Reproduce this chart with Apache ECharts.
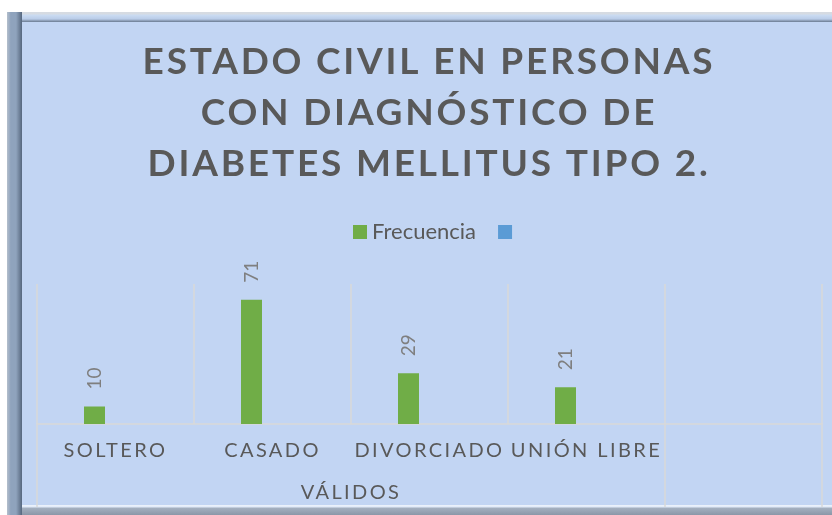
<!DOCTYPE html>
<html>
<head>
<meta charset="utf-8">
<script src="https://cdn.jsdelivr.net/npm/echarts@6/dist/echarts.min.js"></script>
<style>
  body { margin: 0; background: #fff; }
  .fr { position: absolute; }
  #bg { left: 22px; top: 22px; width: 810px; height: 484px; background: #c2d5f3; }
  #frameT { left: 7px; top: 12px; width: 825px; height: 10px;
    background: linear-gradient(to bottom, #d6dbe2 0, #d6dbe2 2px, #cbdcf2 3px, #b9cce8 70%, #6a7a90 100%); }
  #frameL { left: 7px; top: 12px; width: 15px; height: 503px;
    background: linear-gradient(to right, #b4bfcc 0, #8fa3bd 25%, #8fa3bd 60%, #56677e 100%); }
  #frameB { left: 22px; top: 505px; width: 810px; height: 10px;
    background: linear-gradient(to bottom, #eef4fc 0, #dfe9f8 2px, #a4b0c0 3px, #8b97a8 100%); }
  #chart { position: absolute; left: 0; top: 0; width: 832px; height: 515px; }
</style>
</head>
<body>
<div class="fr" id="bg"></div>
<div class="fr" id="frameT"></div>
<div class="fr" id="frameB"></div>
<div class="fr" id="frameL"></div>
<div id="chart"></div>
<script>
const titleLines = ['ESTADO CIVIL EN PERSONAS', 'CON DIAGNÓSTICO DE', 'DIABETES MELLITUS TIPO 2.'];
const categories = ['SOLTERO', 'CASADO', 'DIVORCIADO', 'UNIÓN LIBRE', ''];
const frecuencia = [10, 71, 29, 21];
const groupLabel = 'VÁLIDOS';
const seriesNames = ['Frecuencia', ' '];

// the original uses letter-spaced text; canvas can do that, echarts can't
const spaced = {};
titleLines.forEach(t => spaced[t] = 2.8);
categories.forEach(c => { if (c) spaced[c] = 2.4; });
spaced[groupLabel] = 2.4;

const origFillText = CanvasRenderingContext2D.prototype.fillText;
CanvasRenderingContext2D.prototype.fillText = function (text, x, y, maxW) {
    const ls = spaced[text];
    if (ls && 'letterSpacing' in this) {
        this.save();
        this.letterSpacing = ls + 'px';
        origFillText.call(this, text, x, y);
        this.restore();
        const f = this.font;
        this.font = f;
        return;
    }
    return maxW === undefined ? origFillText.call(this, text, x, y) : origFillText.call(this, text, x, y, maxW);
};

const chart = echarts.init(document.getElementById('chart'), null, { renderer: 'canvas' });

const gridLine = '#d9d9d9';
const font = 'Lato';

chart.setOption({
    animation: false,
    backgroundColor: 'transparent',
    title: {
        text: titleLines.join('\n'),
        left: 429,
        top: 37,
        padding: 0,
        textAlign: 'center',
        textStyle: {
            fontFamily: font,
            fontWeight: 'bold',
            fontSize: 37,
            lineHeight: 51,
            color: '#595959'
        }
    },
    legend: {
        data: seriesNames,
        left: 353,
        top: 221,
        padding: 0,
        itemWidth: 14,
        itemHeight: 14,
        itemGap: 22,
        icon: 'rect',
        textStyle: { fontFamily: font, fontSize: 22, color: '#595959' }
    },
    grid: { left: 37, right: 10, top: 284, bottom: 91 },
    xAxis: [{
        type: 'category',
        data: categories,
        boundaryGap: true,
        axisLine: { lineStyle: { color: gridLine, width: 1.5 } },
        axisTick: {
            show: true,
            length: 83,
            interval: function (index) { return index === 0 || index === 4; },
            lineStyle: { color: gridLine, width: 1.5 }
        },
        splitLine: { show: true, interval: 0, lineStyle: { color: gridLine, width: 1.5 } },
        axisLabel: {
            interval: 0,
            margin: 17,
            fontFamily: font,
            fontSize: 20,
            color: '#595959'
        }
    }, {
        // second level of the category axis
        type: 'value',
        position: 'bottom',
        offset: 0,
        min: 0,
        max: 5,
        interval: 1,
        axisLine: { show: false },
        axisTick: { show: false },
        splitLine: { show: false },
        axisLabel: {
            margin: 59,
            fontFamily: font,
            fontSize: 20,
            color: '#595959',
            formatter: function (v) { return v === 2 ? groupLabel : ''; }
        }
    }],
    yAxis: { type: 'value', min: 0, max: 80, show: false },
    series: [{
        name: seriesNames[0],
        type: 'bar',
        xAxisIndex: 0,
        data: frecuencia,
        barWidth: 21,
        barGap: '100%',
        itemStyle: { color: '#70ad47' },
        label: {
            show: true,
            position: 'top',
            rotate: 90,
            align: 'left',
            verticalAlign: 'middle',
            distance: 17,
            fontFamily: font,
            fontSize: 19,
            color: '#7f7f7f'
        }
    }, {
        name: seriesNames[1],
        type: 'bar',
        xAxisIndex: 0,
        data: [],
        barWidth: 21,
        barGap: '100%',
        itemStyle: { color: '#5b9bd5' }
    }]
});
</script>
</body>
</html>
